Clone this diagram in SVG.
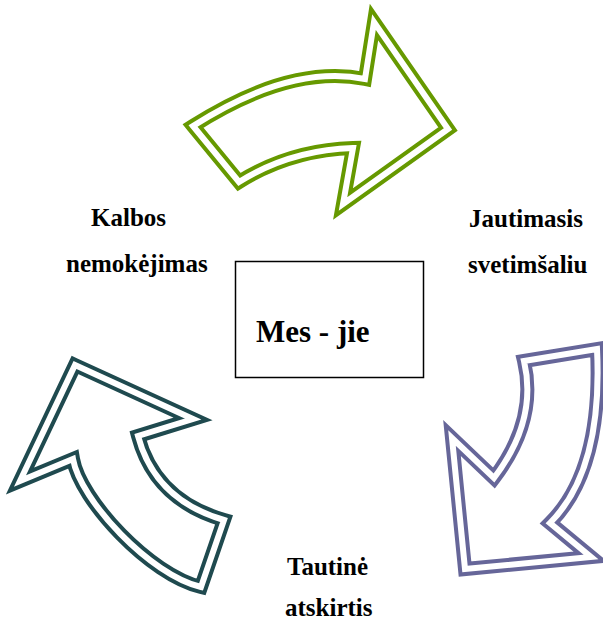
<svg xmlns="http://www.w3.org/2000/svg" width="603" height="621" viewBox="0 0 603 621">
  <style>
    .lbl { font-family: "Liberation Serif", "Times New Roman", serif; font-weight: bold; font-size: 25px; fill: #000; }
    .title { font-family: "Liberation Serif", "Times New Roman", serif; font-weight: bold; font-size: 31px; fill: #000; }
    .band { fill: none; stroke-width: 14; stroke-linejoin: miter; stroke-miterlimit: 10; }
    .gap { fill: none; stroke: #fff; stroke-width: 6; stroke-linejoin: miter; stroke-miterlimit: 10; }
  </style>
  <defs>
    <path id="arrow-top" d="M193,126 L239,182 Q290,150 353,148 L343,204 L448,129 L374,22 L365,79 Q290,64 193,126 Z"/>
    <path id="arrow-right" d="M524,361 L597,349 Q603,470 550,523 L591,557 L465,569 L452,438 L494,478 Q538,420 524,361 Z"/>
    <path id="arrow-left" d="M75,365 L193,419 L138,436 Q155,500 224,520 L201,587 C150,575 80,500 73,459 L20,481 Z"/>
  </defs>
  <rect width="603" height="621" fill="#fff"/>

  <!-- curved double-outlined arrows circling the centre box -->
  <g id="connectors">
    <g id="arrow-green">
      <use href="#arrow-top" class="band" stroke="#669900"/>
      <use href="#arrow-top" class="gap"/>
    </g>
    <g id="arrow-purple">
      <use href="#arrow-right" class="band" stroke="#666699"/>
      <use href="#arrow-right" class="gap"/>
    </g>
    <g id="arrow-teal">
      <use href="#arrow-left" class="band" stroke="#1f4a4f"/>
      <use href="#arrow-left" class="gap"/>
    </g>
  </g>

  <g id="node-center">
    <rect x="235.5" y="261.5" width="188" height="116" fill="#fff" stroke="#000" stroke-width="1.5"/>
    <text class="title" x="256" y="342">Mes - jie</text>
  </g>

  <g id="node-kalbos">
    <text class="lbl" x="91" y="226">Kalbos</text>
    <text class="lbl" x="66" y="272">nemokėjimas</text>
  </g>

  <g id="node-jautimasis">
    <text class="lbl" x="469" y="227">Jautimasis</text>
    <text class="lbl" x="468" y="273">svetimšaliu</text>
  </g>

  <g id="node-tautine">
    <text class="lbl" x="287" y="575">Tautinė</text>
    <text class="lbl" x="285" y="616">atskirtis</text>
  </g>
</svg>
